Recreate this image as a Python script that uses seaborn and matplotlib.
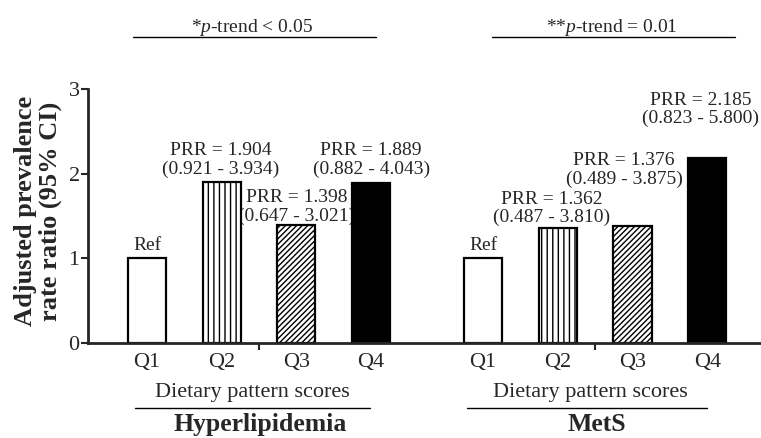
"""Bar chart of adjusted prevalence rate ratios by dietary pattern score quartile."""

import pandas as pd
import seaborn as sns
import matplotlib.pyplot as plt
from matplotlib.transforms import blended_transform_factory

# data
outcomes = ["Hyperlipidemia", "MetS"]
quartiles = ["Q1", "Q2", "Q3", "Q4"]
hyper_prr = [1.0, 1.904, 1.398, 1.889]
mets_prr = [1.0, 1.362, 1.376, 2.185]
hyper_ci = ["", "(0.921 - 3.934)", "(0.647 - 3.021)", "(0.882 - 4.043)"]
mets_ci = ["", "(0.487 - 3.810)", "(0.489 - 3.875)", "(0.823 - 5.800)"]
trend_labels = ["*$p$-trend < 0.05", "**$p$-trend = 0.01"]
x_title = "Dietary pattern scores"
y_title = "Adjusted prevalence\nrate ratio (95% CI)"


def main() -> None:
    sns.set_style("ticks")
    plt.rcParams["font.family"] = ["Liberation Serif", "DejaVu Serif"]
    plt.rcParams["mathtext.fontset"] = "custom"
    plt.rcParams["mathtext.it"] = "Liberation Serif:italic"
    plt.rcParams["mathtext.rm"] = "Liberation Serif"
    plt.rcParams["hatch.linewidth"] = 1.0

    group_gap = 4.5
    rows = []
    for g, (name, vals, cis) in enumerate(zip(outcomes, [hyper_prr, mets_prr], [hyper_ci, mets_ci])):
        for q, (quart, v, ci) in enumerate(zip(quartiles, vals, cis)):
            rows.append({"outcome": name, "quartile": quart, "pos": g * group_gap + q,
                         "prr": v, "ci": ci})
    df = pd.DataFrame(rows)

    fig = plt.figure(figsize=(7.61, 4.38), dpi=100)
    ax = fig.add_axes([88 / 761, 95 / 438, 1 - 88 / 761, 254 / 438])

    sns.barplot(data=df, x="pos", y="prr", native_scale=True, width=0.51,
                color="white", edgecolor="black", linewidth=1.6, ax=ax, zorder=2)

    hatches = ["", "|||", "//////", ""]
    faces = ["white", "white", "white", "black"]
    bars = sorted(ax.patches, key=lambda p: p.get_x())
    for i, patch in enumerate(bars):
        patch.set_facecolor(faces[i % 4])
        patch.set_hatch(hatches[i % 4])
        patch.set_edgecolor("black")

    # bar labels (drawn behind the bars, as in the original)
    offsets = [(0, 3), (-1, 3), (0, 0), (0, 4), (0, 3), (-4.5, 1), (-6, 28), (-4.5, 22)]
    for (_, row), off in zip(df.iterrows(), offsets):
        if row["prr"] == 1.0:
            label = "Ref"
        else:
            label = f"PRR = {row['prr']:.3f}\n{row['ci']}"
        ax.annotate(label, (row["pos"], row["prr"]), xytext=off,
                    textcoords="offset points", ha="center", va="bottom",
                    fontsize=14, linespacing=1.1, zorder=1, annotation_clip=False)

    ax.set_xlim(-0.79, 8.22)
    ax.set_ylim(0, 3)
    ax.set_yticks([0, 1, 2, 3])
    ax.set_xticks(df["pos"])
    ax.set_xticklabels(df["quartile"])
    ax.set_xticks([1.5, 6.0], minor=True)
    ax.tick_params(axis="x", which="major", length=0, pad=7, labelsize=16)
    ax.tick_params(axis="x", which="minor", length=5, width=1.5, direction="out")
    ax.tick_params(axis="y", length=5, width=1.5, pad=1, labelsize=16)
    ax.set_xlabel("")
    ax.set_ylabel(y_title, fontsize=19, fontweight="bold", linespacing=1.1)
    ax.yaxis.set_label_coords(-0.0386, 0.52)
    sns.despine(ax=ax)
    for side in ["left", "bottom"]:
        ax.spines[side].set_linewidth(2)

    # group annotations below and above the axes
    trans = blended_transform_factory(ax.transData, fig.transFigure)
    title_x = [1.41, 5.93]
    name_x = [1.51, 6.02]
    bottom_lines = [(-0.16, 2.99), (4.28, 7.5)]
    trend_x = [1.41, 6.22]
    top_lines = [(-0.19, 3.07), (4.62, 7.87)]
    for g in range(2):
        ax.text(title_x[g], 0.103, x_title, transform=trans, ha="center", va="center",
                fontsize=16)
        ax.plot(bottom_lines[g], [0.0685, 0.0685], transform=trans, color="black",
                linewidth=1.0, clip_on=False)
        ax.text(name_x[g], 0.004, outcomes[g], transform=trans, ha="center", va="bottom",
                fontsize=18.5, fontweight="bold")
        ax.text(trend_x[g], 0.938, trend_labels[g], transform=trans, ha="center",
                va="center", fontsize=14)
        ax.plot(top_lines[g], [0.9155, 0.9155], transform=trans, color="black",
                linewidth=1.0, clip_on=False)

    fig.savefig("out.png", dpi=100)
    plt.close(fig)


if __name__ == "__main__":
    main()
